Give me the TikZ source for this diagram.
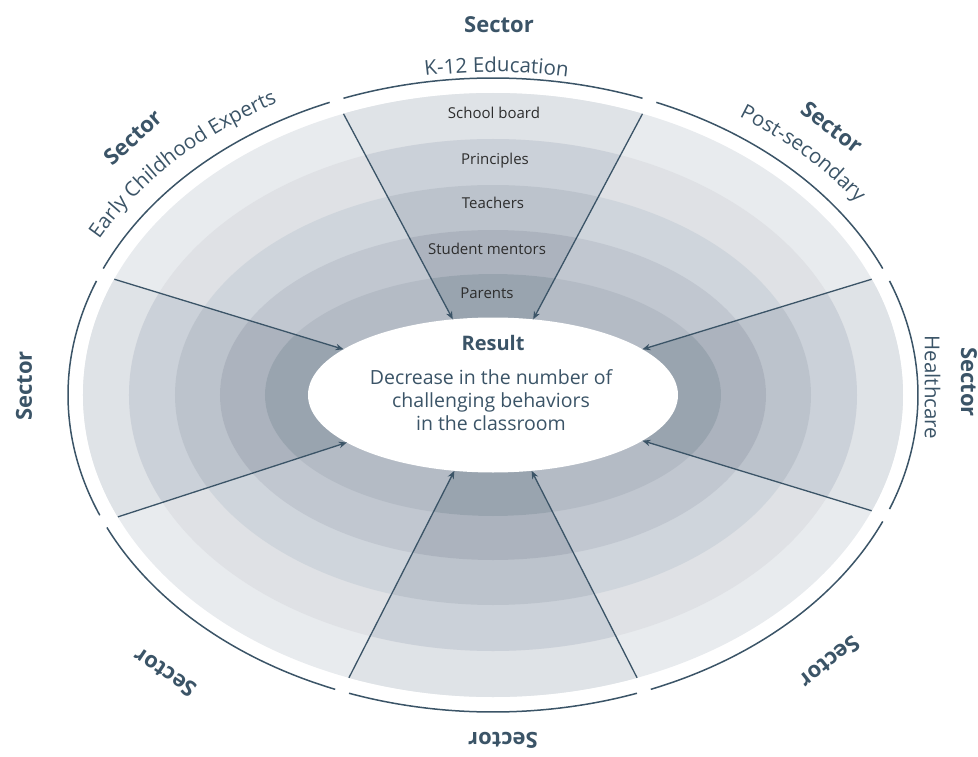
\documentclass[tikz,border=0pt]{standalone}
\usepackage{fontspec}
\setmainfont{Open Sans}
\usetikzlibrary{shapes.geometric,arrows.meta,decorations.text}
\definecolor{slate}{RGB}{59,84,103}
\definecolor{labelgray}{RGB}{45,45,45}
\definecolor{dA}{HTML}{E8EBEE}
\definecolor{dB}{HTML}{DFE1E5}
\definecolor{dC}{HTML}{CFD5DC}
\definecolor{dD}{HTML}{C1C7D0}
\definecolor{dE}{HTML}{B4BBC5}
\definecolor{sA}{HTML}{DFE3E7}
\definecolor{sB}{HTML}{CBD1D9}
\definecolor{sC}{HTML}{BCC3CC}
\definecolor{sD}{HTML}{ACB3BE}
\definecolor{sE}{HTML}{99A4AF}
\newcommand{\curvefont}{\fontsize{20.5}{24}\selectfont\color{slate}}
\begin{document}
\begin{tikzpicture}[x=1pt,y=1pt,
  sectorlabel/.style={font=\bfseries\fontsize{22}{26}\selectfont, text=slate, inner sep=0pt},
  ringlabel/.style={font=\fontsize{15}{18}\selectfont, text=labelgray, inner sep=0pt},
  conn/.style={draw=slate, line width=1.3pt, -{Stealth[length=8pt,width=6.5pt]}},
  rim/.style={draw=slate, line width=1.5pt},
  curvetext/.style={decorate, decoration={text along path, text align=center, text={|\curvefont|#1}}}]
\useasboundingbox (-493,-361) rectangle (485,395);
% rings
\foreach \a/\b/\cd/\cs in {410/302/dA/sA, 364/256/dB/sB, 318/210/dC/sC, 273/165/dD/sD, 228/121/dE/sE} {
  \fill[\cd] (0,0) ellipse[x radius=\a pt, y radius=\b pt];
  \begin{scope}
    \clip (0,0) ellipse[x radius=\a pt, y radius=\b pt];
    \fill[\cs] (0,0) -- (62:800pt) -- (118:800pt) -- cycle;
    \fill[\cs] (0,0) -- (163:800pt) -- (198:800pt) -- cycle;
    \fill[\cs] (0,0) -- (243:800pt) -- (297:800pt) -- cycle;
    \fill[\cs] (0,0) -- (343:800pt) -- (377:800pt) -- cycle;
  \end{scope}
}
\node[ellipse, minimum width=820pt, minimum height=604pt, inner sep=0pt, outer sep=0pt] (outer) at (0,0) {};
\node[ellipse, fill=white, minimum width=370pt, minimum height=155pt, inner sep=0pt, outer sep=0pt] (result) at (0,0) {};
% rim arcs
\foreach \s/\e in {-21.1/21.1, 23.5/67.4, 69.4/110.6, 112.6/156.5, 158.9/202.3, 204.7/248.2, 250.2/289.8, 291.8/336.5}
  \draw[rim] (\s:425pt and 317pt) arc[start angle=\s, end angle=\e, x radius=425pt, y radius=317pt];
% connectors
\foreach \t in {62,118,163,198,243,297,343,17}
  \draw[conn] (outer.\t) -- (result.\t);
% ring labels
\node[ringlabel] (l1) at (1,282) {School board};
\node[ringlabel] (l2) at (2,234) {Principles};
\node[ringlabel] (l3) at (0,192) {Teachers};
\node[ringlabel] (l4) at (-6,146) {Student mentors};
\node[ringlabel] (l5) at (-6,102) {Parents};
% result text
\node[font=\bfseries\fontsize{20}{24}\selectfont, text=slate, inner sep=0pt] (rtitle) at (0,52) {Result};
\node[font=\fontsize{19.5}{23}\selectfont, text=slate, align=center, inner sep=0pt] (rbody) at (-2,-5) {Decrease in the number of\\challenging behaviors\\in the classroom};
% sector labels
\node[sectorlabel] (secT) at (6,370) {Sector};
\node[sectorlabel, rotate=42] (secUL) at (-360,258) {Sector};
\node[sectorlabel, rotate=-37] (secUR) at (339,268) {Sector};
\node[sectorlabel, rotate=90] (secL) at (-469,9) {Sector};
\node[sectorlabel, rotate=-90] (secR) at (476,13) {Sector};
\node[sectorlabel, rotate=146] (secBL) at (-328,-278) {Sector};
\node[sectorlabel, rotate=180] (secB) at (10,-345) {Sector};
\node[sectorlabel, rotate=218.5] (secBR) at (337,-267) {Sector};
% sector names
\path[curvetext={K-12 Education}] (120:431pt and 323pt) arc[start angle=120, end angle=59, x radius=431pt, y radius=323pt];
\path[curvetext={Early Childhood Experts}] (171.5:445pt and 334pt) arc[start angle=171.5, end angle=103.5, x radius=445pt, y radius=334pt];
\path[curvetext={Post-secondary}] (74:445pt and 334pt) arc[start angle=74, end angle=14, x radius=445pt, y radius=334pt];
\node[rotate=-90, font=\curvefont, inner sep=0pt] (health) at (439.5,7.5) {Healthcare};
\end{tikzpicture}
\end{document}
